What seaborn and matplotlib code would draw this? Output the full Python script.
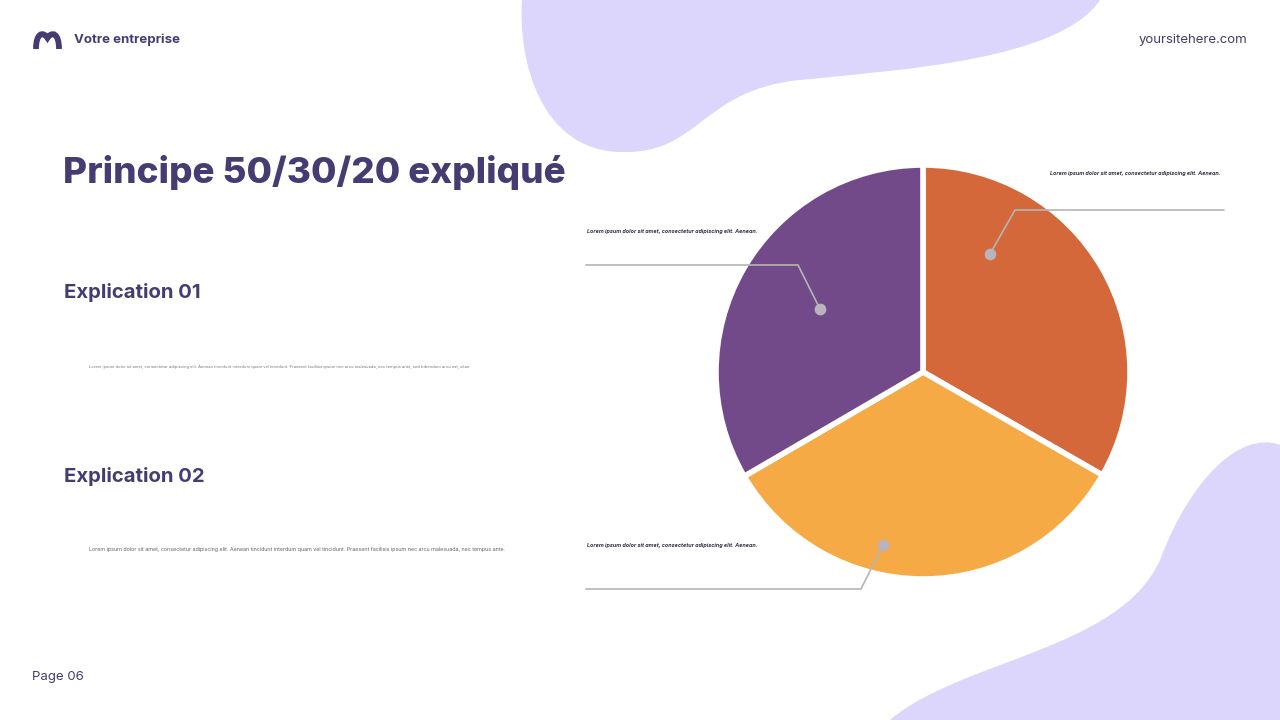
import matplotlib
matplotlib.use("Agg")
import matplotlib.pyplot as plt
import seaborn as sns
from matplotlib.path import Path
from matplotlib.patches import PathPatch

sns.set_theme(style="white")
plt.rcParams['font.family'] = ['Inter', 'DejaVu Sans']

categories = ["Besoins", "Envies", "Épargne"]
values = [33.3, 33.3, 33.4]
colors = ["#d4683a", "#f6aa45", "#724a8a"]
callout_text = "Lorem ipsum dolor sit amet, consectetur adipiscing elit. Aenean."
body1 = ("Lorem ipsum dolor sit amet, consectetur adipiscing elit. Aenean tincidunt interdum quam vel tincidunt. "
         "Praesent facilisis ipsum nec arcu malesuada, nec tempus ante, sed bibendum arcu est, vitae.")
body2 = ("Lorem ipsum dolor sit amet, consectetur adipiscing elit. Aenean tincidunt interdum quam vel tincidunt. "
         "Praesent facilisis ipsum nec arcu malesuada, nec tempus ante.")

DARK = "#463c72"
BLOB = "#dcd6fc"

fig = plt.figure(figsize=(12.8, 7.2), dpi=100)
fig.patch.set_facecolor("white")

ov = fig.add_axes([0, 0, 1, 1])
ov.set_xlim(0, 1280); ov.set_ylim(720, 0); ov.axis("off")

top = Path([(522, 0), (518, 60), (540, 150), (620, 152), (700, 155), (700, 90), (800, 80),
            (900, 70), (1060, 60), (1100, 0), (522, 0)],
           [Path.MOVETO, Path.CURVE4, Path.CURVE4, Path.CURVE4, Path.CURVE4, Path.CURVE4, Path.CURVE4,
            Path.CURVE4, Path.CURVE4, Path.CURVE4, Path.CLOSEPOLY])
ov.add_patch(PathPatch(top, fc=BLOB, ec="none", zorder=0))
bot = Path([(890, 720), (960, 660), (1120, 650), (1160, 560), (1190, 480), (1240, 430), (1280, 445),
            (1280, 720), (890, 720)],
           [Path.MOVETO, Path.CURVE4, Path.CURVE4, Path.CURVE4, Path.CURVE4, Path.CURVE4, Path.CURVE4,
            Path.LINETO, Path.CLOSEPOLY])
ov.add_patch(PathPatch(bot, fc=BLOB, ec="none", zorder=0))

logo = Path([(36, 49), (36, 33), (43, 31), (47.5, 38), (52, 31), (59, 33), (59, 49)],
            [Path.MOVETO, Path.CURVE4, Path.CURVE4, Path.CURVE4, Path.CURVE4, Path.CURVE4, Path.CURVE4])
ov.add_patch(PathPatch(logo, fc="none", ec=DARK, lw=4.2, capstyle="butt"))
ov.text(74, 40, "Votre entreprise", fontsize=9.5, fontweight="bold", color=DARK, va="center")
ov.text(1247, 40, "yoursitehere.com", fontsize=9.5, color=DARK, va="center", ha="right")
ov.text(32, 677, "Page 06", fontsize=9.5, color=DARK, va="center")

ov.text(63, 173, "Principe 50/30/20 expliqué", fontsize=26.5, fontweight="heavy", color=DARK, va="center")
ov.text(64, 293, "Explication 01", fontsize=14.6, fontweight="bold", color=DARK, va="center")
ov.text(64, 476, "Explication 02", fontsize=14.6, fontweight="bold", color=DARK, va="center")
ov.text(89, 367, body1, fontsize=2.95, color="#777777", va="center")
ov.text(89, 550, body2, fontsize=3.9, color="#666666", va="center")

callouts = [((990, 254), (1015, 210), (1224, 210), (1050, 173)),
            ((820, 309), (798, 265), (586, 265), (587, 232)),
            ((883, 545), (861, 589), (586, 589), (587, 546))]
for dot, knee, end, tpos in callouts:
    ov.text(tpos[0], tpos[1], callout_text, fontsize=3.9, fontstyle="italic", fontweight="bold",
            color="#333344", va="center")

r = 207
cx, cy = 923, 372
ax = fig.add_axes([(cx - r) / 1280, (720 - cy - r) / 720, 2 * r / 1280, 2 * r / 720])
ax.pie(values, colors=colors, startangle=90, counterclock=False, radius=1,
       wedgeprops=dict(edgecolor="white", linewidth=4))
ax.set_xlim(-1, 1); ax.set_ylim(-1, 1); ax.axis("off")
ov.set_zorder(0); ax.set_zorder(1)

ov2 = fig.add_axes([0, 0, 1, 1]); ov2.axis("off")
ov2.set_xlim(0, 1280); ov2.set_ylim(720, 0)
for dot, knee, end, tpos in callouts:
    ov2.plot([dot[0], knee[0], end[0]], [dot[1], knee[1], end[1]], color="#b5b5b5", lw=1.2)
    ov2.scatter([dot[0]], [dot[1]], s=55, color="#b8b3bd", zorder=6)
ov2.set_zorder(2)

fig.savefig("out.png", dpi=100, facecolor="white")
